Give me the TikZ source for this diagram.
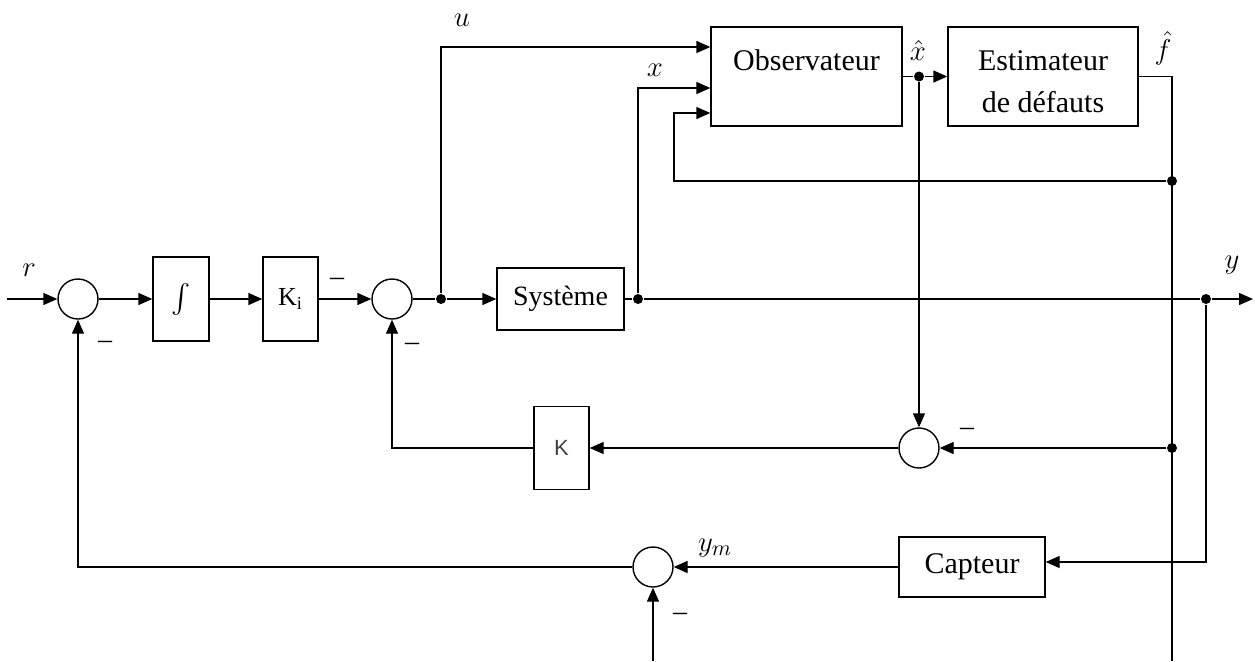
\documentclass[tikz,border=0pt]{standalone}
\usepackage{amsmath}
\usepackage{fontspec}
\setmainfont{Liberation Serif}
\setsansfont{Liberation Sans}
\usetikzlibrary{arrows.meta}

\begin{document}
\begin{tikzpicture}[x=0.5pt, y=-0.5pt, line width=0.7pt,
  every node/.style={font=\fontsize{15}{21}\selectfont},
  block/.style={draw, inner sep=0pt, align=center},
  twoline/.style={block, text height=42.5pt, text depth=7pt},
  sumnode/.style={draw, circle, inner sep=0pt, minimum size=20pt},
  dot/.style={circle, fill, inner sep=0pt, minimum size=5pt},
  sig/.style={-{Triangle[length=7pt, width=6pt]}},
  lbl/.style={inner sep=1pt},
  minus/.style={inner sep=1pt, font=\fontsize{14}{14}\selectfont}]
\useasboundingbox (0,0) rectangle (1255,661);
\node[sumnode] (s1) at (78,299) {};
\node[block, minimum width=28pt, minimum height=42pt] (integ) at (181,299) {$\int$};
\node[block, minimum width=27.5pt, minimum height=42pt, font=\fontsize{13}{13}\selectfont] (ki) at (290.5,299) {K\textsubscript{i}};
\node[sumnode] (s2) at (392,299) {};
\node[dot] (ju) at (441,299) {};
\node[block, minimum width=63.5pt, minimum height=31pt, font=\fontsize{14}{14}\selectfont] (sys) at (560.5,299) {Système};
\node[dot] (jx) at (638,299) {};
\node[dot] (jy) at (1206,299) {};
\coordinate (yend) at (1253,299);
\coordinate (rin) at (7,299);
\node[twoline, minimum width=95.5pt] (obs) at (806.5,76.5) {Observateur\\\strut};
\node[dot] (jxh) at (919,76.5) {};
\node[twoline, minimum width=95pt] (est) at (1043,76.5) {Estimateur\\de défauts};
\coordinate (ftop) at (1172,76.5);
\coordinate (fbot) at (1172,661);
\node[dot] (jobs) at (1172,181) {};
\coordinate (cloop) at (674,181);
\node[sumnode] (s3) at (919,448) {};
\node[dot] (jk) at (1172,448) {};
\node[block, minimum width=27.5pt, minimum height=41.5pt, font=\fontsize{11}{11}\selectfont\sffamily, text=black!75] (kbox) at (561.5,448) {K};
\node[block, minimum width=73pt, minimum height=30pt] (capt) at (972,567) {Capteur};
\node[sumnode] (s4) at (653,567) {};
\coordinate (sbot) at (653,661);

\draw[sig] (rin) -- (s1);
\draw[sig] (s1) -- (integ);
\draw[sig] (integ) -- (ki);
\draw[sig] (ki) -- (s2);
\draw (s2) -- (ju);
\draw[sig] (ju) -- (sys);
\draw (sys) -- (jx);
\draw (jx) -- (jy);
\draw[sig] (jy) -- (yend);
\draw[sig] (ju) |- ([yshift=14.75pt]obs.west);
\draw[sig] (jx) |- ([yshift=-5.75pt]obs.west);
\draw[sig] (jobs) -- (cloop) |- ([yshift=-18.25pt]obs.west);
\draw (obs) -- (jxh);
\draw[sig] (jxh) -- (est);
\draw (est) -- (ftop) -- (fbot);
\draw[sig] (jxh) -- (s3);
\draw[sig] (jk) -- (s3);
\draw[sig] (s3) -- (kbox);
\draw[sig] (kbox) -| (s2);
\draw[sig] (jy) |- ([yshift=2.5pt]capt.east);
\draw[sig] (capt) -- (s4);
\draw[sig] (s4) -| (s1);
\draw[sig] (sbot) -- (s4);

\node[lbl] (lr) at (29,270) {$r$};
\node[lbl] (lu) at (462,20) {$u$};
\node[lbl] (lx) at (655,70) {$x$};
\node[lbl] (lxh) at (918,50) {$\hat{x}$};
\node[lbl] (lf) at (1163,48) {$\hat{f}$};
\node[lbl] (ly) at (1232,265) {$y$};
\node[lbl] (lym) at (715,548) {$y_m$};
\node[minus] (m1) at (105,345) {--};
\node[minus] (m2) at (337,282) {--};
\node[minus] (m3) at (412,347) {--};
\node[minus] (m4) at (967,432) {--};
\node[minus] (m5) at (680,617) {--};
\end{tikzpicture}
\end{document}
